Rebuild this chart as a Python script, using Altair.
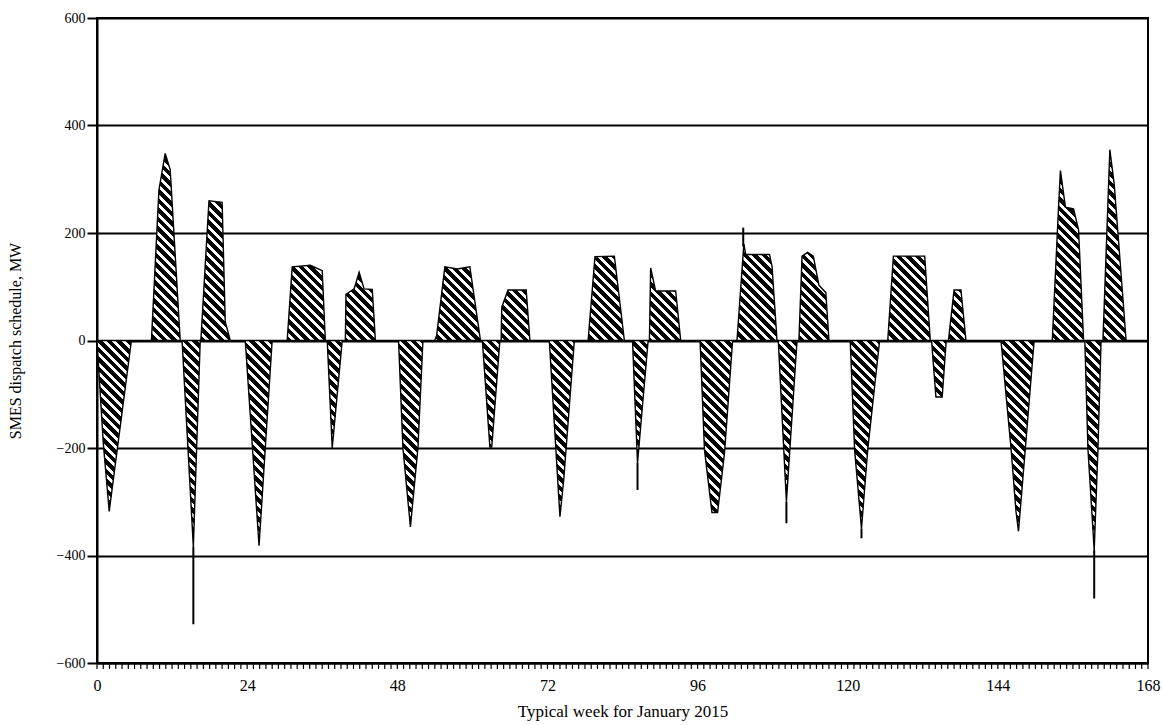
import math
import altair as alt
import pandas as pd

# ---- data (hour of week, MW) ----
hours = [0, 1.0, 1.95, 5.5,
         8.7, 9.9, 10.9, 11.7, 13.3,
         13.6, 15.4, 16.5,
         16.6, 17.9, 20.0, 20.5, 21.3,
         23.7, 25.9, 28.0,
         30.4, 31.2, 34.1, 36.0, 36.5,
         36.8, 37.6, 39.2,
         39.7, 39.8, 41.1, 41.9, 42.7, 44.0, 44.5,
         48.2, 48.9, 50.1, 51.3, 52.1,
         54.0, 54.3, 55.6, 57.6, 59.6, 61.3,
         61.6, 62.8, 63.1, 64.4,
         64.6, 64.7, 65.7, 68.6, 69.2,
         72.3, 74.0, 74.6, 76.3,
         78.5, 79.6, 82.7, 84.3,
         85.6, 86.4, 88.1,
         88.3, 88.5, 89.3, 92.5, 93.3,
         96.4, 97.1, 98.3, 99.2, 100.3, 101.6,
         102.3, 103.4, 103.7, 107.5, 107.9, 108.7,
         108.9, 110.2, 111.9,
         112.2, 112.7, 113.6, 114.5, 115.4, 116.5, 117.0,
         120.4, 121.1, 122.2, 123.2, 125.1,
         126.4, 127.3, 132.3, 133.2,
         133.4, 134.1, 135.1, 135.75,
         136.1, 137.0, 138.1, 138.9,
         144.5, 146.1, 146.9, 147.3, 148.4, 149.8,
         152.7, 153.7, 154.0, 154.8, 156.1, 156.9, 157.7,
         157.9, 158.4, 159.4, 160.0, 160.5,
         160.8, 161.9, 162.6, 164.5,
         168]
mw = [0, -190, -318, 0,
      0, 280, 348, 318, 0,
      0, -384, 0,
      0, 260, 257, 35, 0,
      0, -382, 0,
      0, 137, 140, 130, 0,
      0, -200, 0,
      0, 86, 96, 127, 96, 95, 0,
      0, -200, -347, -200, 0,
      0, 10, 137, 133, 137, 0,
      0, -198, -198, 0,
      0, 62, 94, 94, 0,
      0, -328, -260, 0,
      0, 156, 157, 0,
      0, -228, 0,
      0, 135, 92, 92, 0,
      0, -203, -320, -320, -210, 0,
      0, 180, 160, 160, 138, 0,
      0, -300, 0,
      0, 157, 164, 157, 103, 89, 0,
      0, -203, -350, -203, 0,
      0, 157, 157, 0,
      0, -105, -105, 0,
      0, 94, 94, 0,
      0, -200, -318, -355, -200, 0,
      0, 248, 316, 248, 245, 206, 0,
      0, -202, -390, -202, 0,
      0, 355, 291, 0,
      0]

# thin needle-like extensions below / above some blocks
spike_hours = [15.4, 86.4, 103.3, 110.2, 122.2, 159.4]
spike_from = [-384, -228, 175, -300, -350, -390]
spike_to = [-528, -278, 210, -340, -368, -480]

x_ticks = list(range(0, 169))
x_labels = [0, 24, 48, 72, 96, 120, 144, 168]
y_ticks = [-600, -400, -200, 0, 200, 400, 600]

PW, PH = 1051, 645
FONT = "Liberation Serif"

df = pd.DataFrame({"hour": hours, "mw": mw})
spikes = pd.DataFrame({"hour": spike_hours, "a": spike_from, "b": spike_to})
ticks_df = pd.DataFrame({"hour": x_ticks})

# ---- diagonal hatch as a hard-stop linear gradient (bbox units) ----
bw = PW
bh = (max(mw) - min(mw)) / 1200.0 * PH
k = (bw + bh) / (bw * bw + bh * bh)
x1, y1 = 0.0, 1.0
x2, y2 = bw * k, 1.0 - bh * k
period_px = 9.5
p = period_px / (bw + bh)
n = int(math.ceil(1.0 / p)) + 1
stops = []
for i in range(n):
    a = i * p
    m = a + 0.56 * p
    e = (i + 1) * p
    if a > 1:
        break
    stops.append(alt.GradientStop(color="black", offset=min(a, 1.0)))
    stops.append(alt.GradientStop(color="black", offset=min(m, 1.0)))
    stops.append(alt.GradientStop(color="white", offset=min(m, 1.0)))
    stops.append(alt.GradientStop(color="white", offset=min(e, 1.0)))
hatch = alt.Gradient(gradient="linear", stops=stops, x1=x1, y1=y1, x2=x2, y2=y2)

xscale = alt.Scale(domain=[0, 168], nice=False, zero=False)
yscale = alt.Scale(domain=[-600, 600], nice=False, clamp=False)

xaxis = alt.Axis(values=x_labels, format="d",
                 grid=False, ticks=False,
                 domainColor="black", domainWidth=2, labelFlush=False,
                 labelFont=FONT, labelFontSize=16, labelColor="black", labelPadding=14,
                 title="Typical week for January 2015", titleFont=FONT,
                 titleFontSize=17, titleFontWeight="normal", titleColor="black",
                 titlePadding=10)
yaxis = alt.Axis(values=y_ticks, format="d", grid=True, gridColor="black",
                 gridWidth=2, tickSize=10, tickColor="black", tickWidth=2,
                 domainColor="black", domainWidth=2,
                 labelFont=FONT, labelFontSize=14, labelColor="black", labelPadding=2,
                 title="SMES dispatch schedule, MW", titleFont=FONT,
                 titleFontSize=16, titleFontWeight="normal", titleColor="black",
                 titleX=-82, titleY=PH / 2, titleAlign="center", titleBaseline="middle")

area = alt.Chart(df).mark_area(
    fill=hatch, stroke="black", strokeWidth=1.4, interpolate="linear"
).encode(
    x=alt.X("hour:Q", scale=xscale, axis=xaxis),
    y=alt.Y("mw:Q", scale=yscale, axis=yaxis, stack=None),
    y2=alt.datum(0),
)

needles = alt.Chart(spikes).mark_rule(color="black", strokeWidth=2).encode(
    x=alt.X("hour:Q", scale=xscale),
    y=alt.Y("a:Q", scale=yscale),
    y2="b:Q",
)

hour_ticks = alt.Chart(ticks_df).mark_rule(color="black", strokeWidth=1.2).encode(
    x=alt.X("hour:Q", scale=xscale),
    y=alt.datum(-600),
    y2=alt.datum(-611),
)

chart = alt.layer(area, needles, hour_ticks).properties(
    width=PW, height=PH,
    padding={"left": 97, "top": 18, "right": 16, "bottom": 62},
    autosize="none",
    background="white",
).configure_view(stroke="black", strokeWidth=2)

chart.save("out.html", embed_options={"renderer": "svg", "actions": False})
